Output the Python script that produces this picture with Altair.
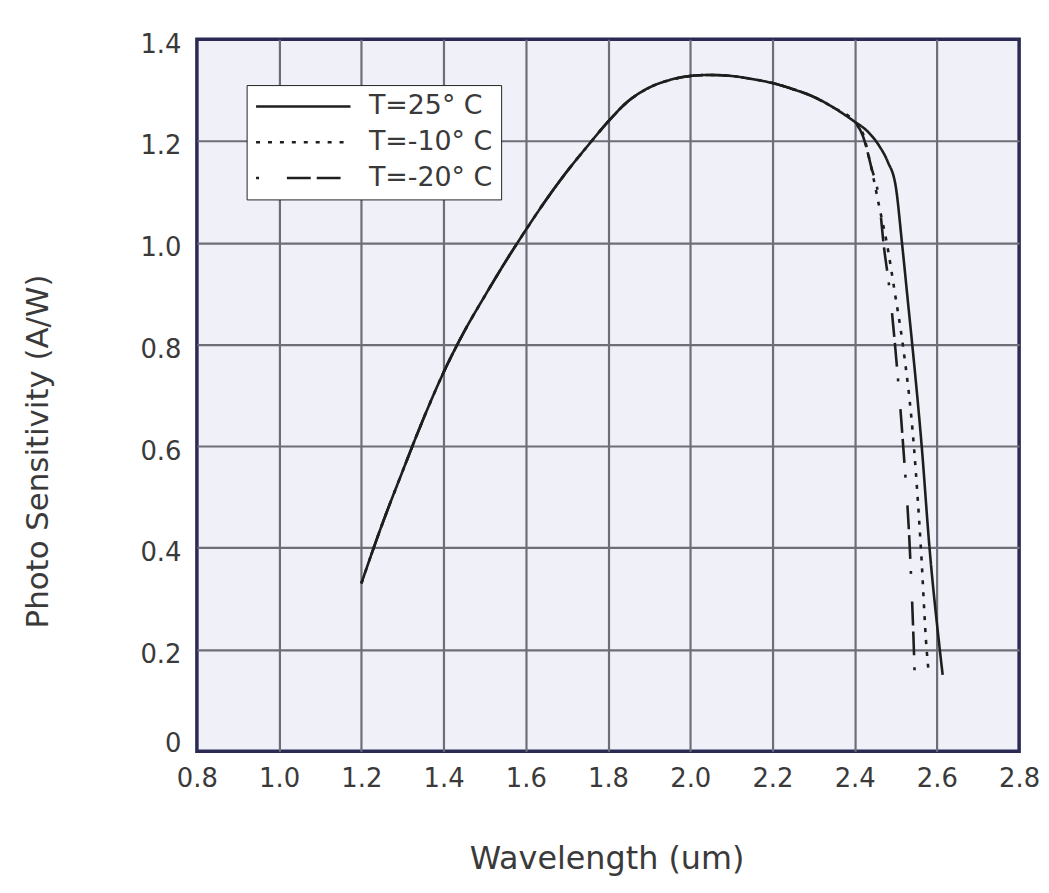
import altair as alt
import pandas as pd

series_labels = ["T=25° C", "T=-10° C", "T=-20° C"]

# shared rising part of the curves (all three temperatures coincide here)
wl_common = [1.20, 1.25, 1.30, 1.35, 1.40, 1.45, 1.50, 1.55, 1.60, 1.65, 1.70,
             1.75, 1.80, 1.85, 1.90, 1.95, 2.00, 2.05, 2.10, 2.15, 2.20, 2.25,
             2.30, 2.35, 2.40]
ps_common = [0.33, 0.445, 0.55, 0.652, 0.745, 0.825, 0.895, 0.962, 1.025, 1.085, 1.14,
             1.19, 1.238, 1.279, 1.305, 1.32, 1.328, 1.33, 1.328, 1.322, 1.314, 1.302,
             1.287, 1.265, 1.238]

# cut-off tails
wl_tail_25 = [2.43, 2.46, 2.48, 2.50, 2.515, 2.53, 2.54, 2.563, 2.582, 2.607, 2.614]
ps_tail_25 = [1.22, 1.19, 1.16, 1.11, 1.00, 0.88, 0.80, 0.60, 0.40, 0.20, 0.15]

wl_tail_m10 = [2.42, 2.437, 2.46, 2.478, 2.498, 2.517, 2.544, 2.561, 2.575, 2.58]
ps_tail_m10 = [1.215, 1.16, 1.07, 1.00, 0.90, 0.80, 0.60, 0.40, 0.20, 0.155]

wl_tail_m20 = [2.42, 2.44, 2.46, 2.47, 2.486, 2.498, 2.518, 2.534, 2.544, 2.546]
ps_tail_m20 = [1.21, 1.15, 1.08, 1.00, 0.90, 0.80, 0.60, 0.40, 0.20, 0.15]

x_ticks = [0.8, 1.0, 1.2, 1.4, 1.6, 1.8, 2.0, 2.2, 2.4, 2.6, 2.8]
y_ticks = [0, 0.2, 0.4, 0.6, 0.8, 1.0, 1.2, 1.4]

rows = []
for label, wt, pt in [(series_labels[0], wl_tail_25, ps_tail_25),
                      (series_labels[1], wl_tail_m10, ps_tail_m10),
                      (series_labels[2], wl_tail_m20, ps_tail_m20)]:
    wls = wl_common + wt
    pss = ps_common + pt
    for i, (w, p) in enumerate(zip(wls, pss)):
        rows.append({"series": label, "wl": w, "ps": p, "idx": i})
df = pd.DataFrame(rows)

FONT = "DejaVu Sans"
TXT = "#3a3a3a"

chart = alt.Chart(df).mark_line(color="#1e1e1e", strokeWidth=2.6, interpolate="monotone").encode(
    x=alt.X("wl:Q",
            scale=alt.Scale(domain=[0.8, 2.8], nice=False, zero=False),
            axis=alt.Axis(values=x_ticks, format=".1f", title="Wavelength (um)",
                          ticks=False, domain=False, labelPadding=14, labelFlush=False,
                          labelFontSize=26, labelFont=FONT, labelColor=TXT,
                          titleFontSize=32, titleFont=FONT, titleColor=TXT,
                          titleFontWeight="normal",
                          titleX=412, titleY=118, titleAlign="center",
                          titleBaseline="alphabetic",
                          gridColor="#6e6e78", gridWidth=2.2,
                          gridOpacity={"condition": {"test": "datum.value <= 0.81 || datum.value >= 2.79", "value": 0}, "value": 1})),
    y=alt.Y("ps:Q",
            scale=alt.Scale(domain=[0, 1.4], nice=False),
            axis=alt.Axis(values=y_ticks,
                          labelExpr="datum.value == 0 ? '0' : format(datum.value, '.1f')",
                          title="Photo Sensitivity (A/W)",
                          ticks=False, domain=False, labelPadding=16,
                          labelOffset={"condition": {"test": "datum.value == 0", "value": -8}, "value": 5},
                          labelFontSize=26, labelFont=FONT, labelColor=TXT,
                          titleFontSize=31, titleFont=FONT, titleColor=TXT,
                          titleFontWeight="normal",
                          titleX=-150, titleY=414, titleAngle=270,
                          titleAlign="center", titleBaseline="alphabetic",
                          gridColor="#6e6e78", gridWidth=2.2,
                          gridOpacity={"condition": {"test": "datum.value <= 0.01 || datum.value >= 1.39", "value": 0}, "value": 1})),
    strokeDash=alt.StrokeDash("series:N",
                              scale=alt.Scale(domain=series_labels,
                                              range=[[1, 0], [4, 8], [3, 28, 24, 6, 24, 12]]),
                              legend=alt.Legend(title=None, orient="none",
                                                legendX=50, legendY=46,
                                                symbolType="stroke", symbolSize=9025,
                                                symbolStrokeWidth=2.5,
                                                symbolStrokeColor="#1e1e1e",
                                                clipHeight=27, rowPadding=8,
                                                labelOffset=17, labelFontSize=27,
                                                labelFont=FONT, labelColor=TXT,
                                                padding=8, fillColor="white",
                                                strokeColor="#222222")),
    order=alt.Order("idx:Q"),
).properties(
    width=827, height=716,
    autosize=alt.AutoSizeParams(type="none"),
    padding={"left": 190, "top": 29, "right": 22, "bottom": 125},
    background="white",
).configure_view(
    fill="#f0f0f8", stroke="#2a2a55", strokeWidth=3.5,
)

chart.save("out.html", embed_options={"renderer": "svg", "actions": False})
